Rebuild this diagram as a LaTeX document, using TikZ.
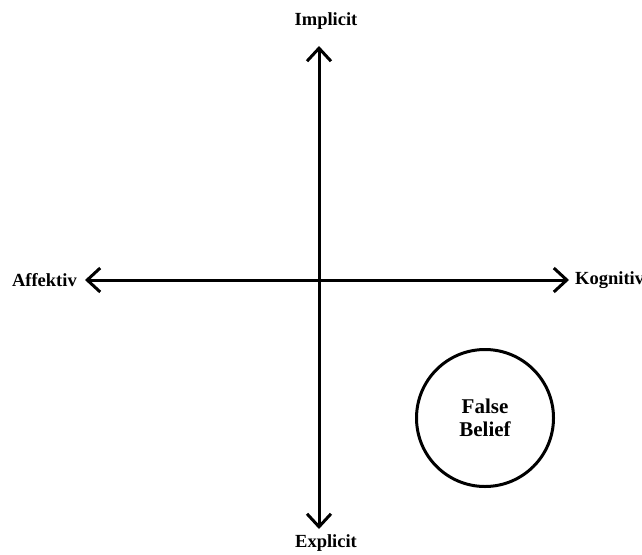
\documentclass[tikz,border=0pt]{standalone}
\usepackage{fontspec}
\setmainfont{Liberation Serif}
\usetikzlibrary{arrows.meta}
\usetikzlibrary{positioning}

\begin{document}
\begin{tikzpicture}[
    x=1pt, y=-1pt,
    axislabel/.style={font=\fontsize{18.5}{21}\selectfont\bfseries, inner sep=0pt},
    belief/.style={circle, draw, line width=3pt, minimum size=137pt, inner sep=0pt,
        align=center, font=\fontsize{21}{23}\selectfont\bfseries},
    axis/.style={line width=3pt, {Straight Barb[length=13pt, width=24pt]}-{Straight Barb[length=13pt, width=24pt]}},
]
\useasboundingbox (0,0) rectangle (642,554);

% --- Axis end points ---
\coordinate (top) at (319,46);
\coordinate (bottom) at (319,529);
\coordinate (left) at (85,280);
\coordinate (right) at (569,280);

% --- Axes ---
\draw[axis] (bottom) -- (top);
\draw[axis] (left) -- (right);

% --- Axis labels ---
\node[axislabel] (implicit) at (326,21) {Implicit};
\node[axislabel] (explicit) at (326,543) {Explicit};
\node[axislabel, left=8pt of left] (affektiv) {Affektiv};
\node[axislabel, right=6pt of right] (kognitiv) {Kognitiv};

% --- Circle ---
\node[belief] (fb) at (485,418) {False\\Belief};

\end{tikzpicture}
\end{document}
